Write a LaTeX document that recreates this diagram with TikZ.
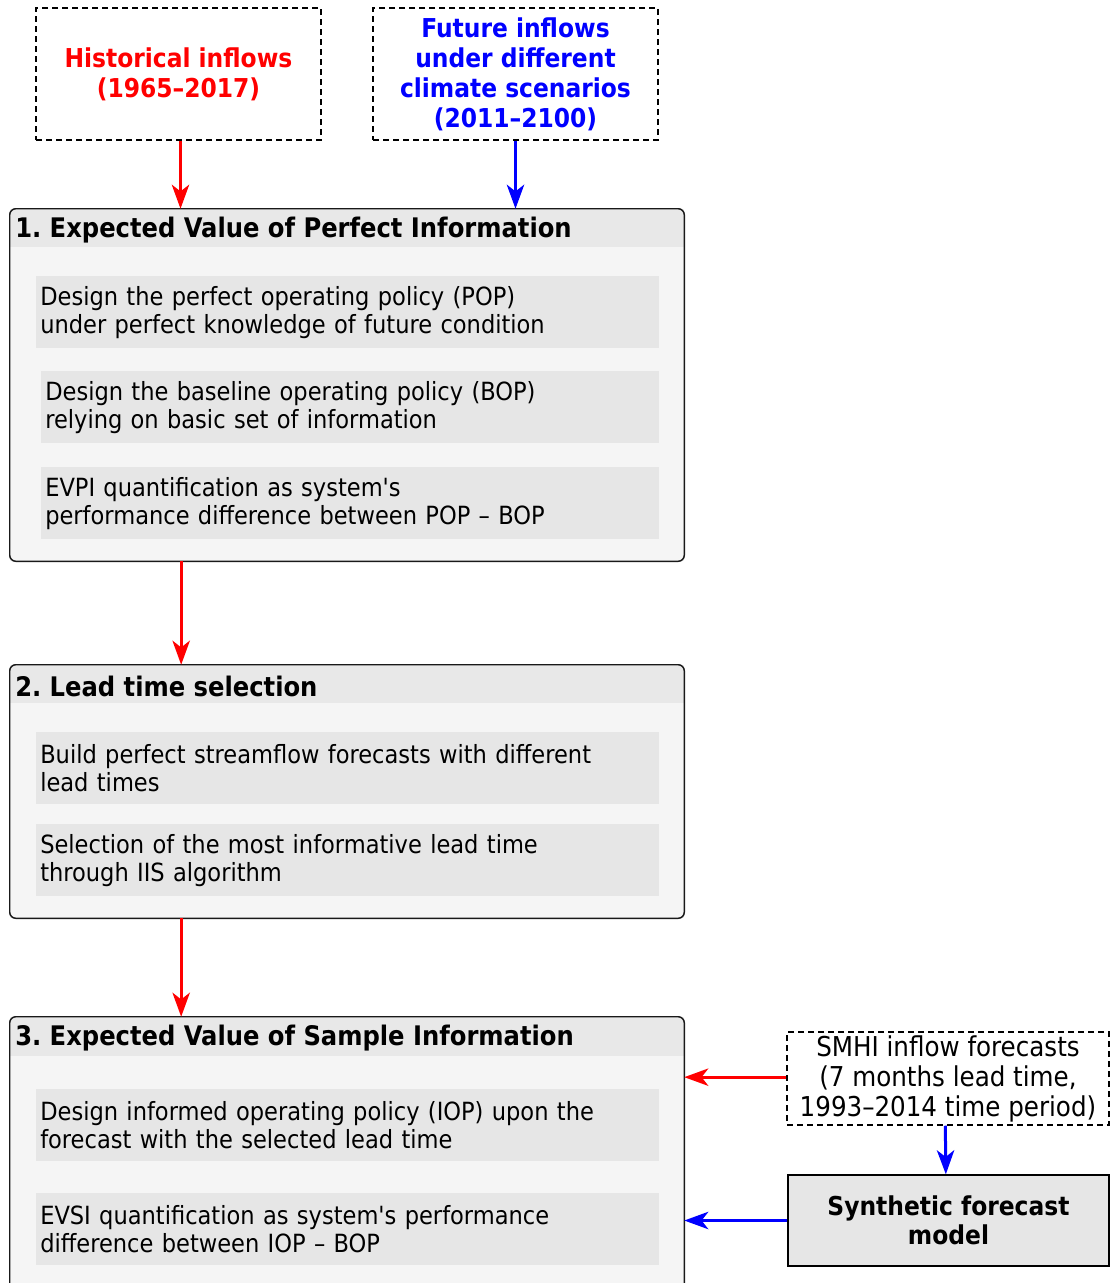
\documentclass[tikz,border=0pt]{standalone}
\usepackage{fontspec}
\setmainfont{DejaVu Sans Condensed}
\usetikzlibrary{arrows.meta,fit}
\definecolor{headgray}{HTML}{E8E8E8}
\definecolor{bodygray}{HTML}{F5F5F5}
\definecolor{itemgray}{HTML}{E6E6E6}
\definecolor{inred}{HTML}{FF0000}
\definecolor{inblue}{HTML}{0000FF}
\frenchspacing

\begin{document}
\begin{tikzpicture}[x=0.75pt,y=0.75pt,yscale=-1,xscale=1,
  font=\fontsize{18.8}{21}\selectfont,
  source/.style={draw, dash pattern=on 4.5pt off 3pt, line width=1.1pt, inner sep=0pt, align=center},
  panel/.style={fill=bodygray, inner sep=0pt},
  panelframe/.style={draw=black!90, line width=1.1pt, rounded corners=4.5pt},
  heading/.style={font=\fontsize{20.2}{22}\selectfont\bfseries, anchor=west, inner sep=0pt},
  item/.style={fill=itemgray, anchor=north west, inner xsep=3pt, text width=461.25pt, minimum height=54pt, align=left},
  flow/.style={line width=2.25pt, -{Stealth[length=18pt,width=13pt,inset=5pt]}},
]
%set diagram size to 1110 x 1283
\useasboundingbox (0,0) rectangle (1110,1283);

% Panels
\node [panel, fit={(10,209) (684,561)}] (evpi) {};
\node [panel, fit={(10,665) (684,918)}] (lead) {};
\node [panel, fit={(10,1017) (684,1295)}] (sample) {};
% Panel headers
\begin{scope}
\clip [rounded corners=4.5pt] (10,209) rectangle (684,561);
\fill [headgray] (10,209) rectangle (684,247);
\end{scope}
\begin{scope}
\clip [rounded corners=4.5pt] (10,665) rectangle (684,918);
\fill [headgray] (10,665) rectangle (684,703);
\end{scope}
\begin{scope}
\clip [rounded corners=4.5pt] (10,1017) rectangle (684,1295);
\fill [headgray] (10,1017) rectangle (684,1056);
\end{scope}
\node [heading] (evpititle) at (15,230) {1. Expected Value of Perfect Information};
\node [heading] (leadtitle) at (15,686) {2. Lead time selection};
\node [heading] (sampletitle) at (15,1038) {3. Expected Value of Sample Information};

% Steps of panel 1
\node [item] (pop) at (36,276) {Design the perfect operating policy (POP)\\under perfect knowledge of future condition};
\node [item, text width=457.5pt] (bop) at (41,371) {Design the baseline operating policy (BOP)\\relying on basic set of information};
\node [item, text width=457.5pt] (evpiq) at (41,467) {EVPI quantification as system\textquotesingle s\\performance difference between POP -- BOP};
% Steps of panel 2
\node [item] (perfect) at (36,732) {Build perfect streamflow forecasts with different\\lead times};
\node [item] (iis) at (36,824) {Selection of the most informative lead time\\through IIS algorithm};
% Steps of panel 3
\node [item] (iop) at (36,1089) {Design informed operating policy (IOP) upon the\\forecast with the selected lead time};
\node [item] (evsiq) at (36,1193) {EVSI quantification as system\textquotesingle s performance\\difference between IOP -- BOP};

% Panel borders
\draw [panelframe] (evpi.south west) rectangle (evpi.north east);
\draw [panelframe] (lead.south west) rectangle (lead.north east);
\draw [panelframe] (sample.south west) rectangle (sample.north east);

% Input boxes
\node [source, minimum width=213.75pt, minimum height=99pt, text=inred, font=\fontsize{19.5}{22.5}\selectfont\bfseries] (hist) at (178.5,74) {Historical inflows\\(1965--2017)};
\node [source, minimum width=213.75pt, minimum height=99pt, text=inblue, font=\fontsize{19.5}{22.5}\selectfont\bfseries] (future) at (515.5,74) {Future inflows\\under different\\climate scenarios\\(2011--2100)};
\node [source, minimum width=241.5pt, minimum height=69.75pt, font=\fontsize{20.5}{22.5}\selectfont] (smhi) at (948,1078.5) {SMHI inflow forecasts\\(7 months lead time,\\1993--2014 time period)};
\node [draw, fill=itemgray, line width=1.1pt, inner sep=0pt, align=center, minimum width=240.75pt, minimum height=68.25pt, font=\fontsize{19.5}{22}\selectfont\bfseries] (synth) at (948.5,1220.5) {Synthetic forecast\\model};

% Connections
\draw [flow, inred] ([xshift=1.5pt]hist.south) -- ([xshift=1.5pt]hist.south |- evpi.north);
\draw [flow, inblue] (future.south) -- (future.south |- evpi.north);
\draw [flow, inred] ([xshift=2pt]evpi.south -| hist.south) -- ([xshift=2pt]lead.north -| hist.south);
\draw [flow, inred] ([xshift=2pt]lead.south -| hist.south) -- ([xshift=2pt]sample.north -| hist.south);
\draw [flow, inred] ([yshift=-1pt]smhi.west) -- ([yshift=-1pt]smhi.west -| sample.east);
\draw [flow, inblue] ([xshift=-2pt]smhi.south) -- ([xshift=-2pt]synth.north);
\draw [flow, inblue] (synth.west) -- (synth.west -| sample.east);

\end{tikzpicture}
\end{document}
